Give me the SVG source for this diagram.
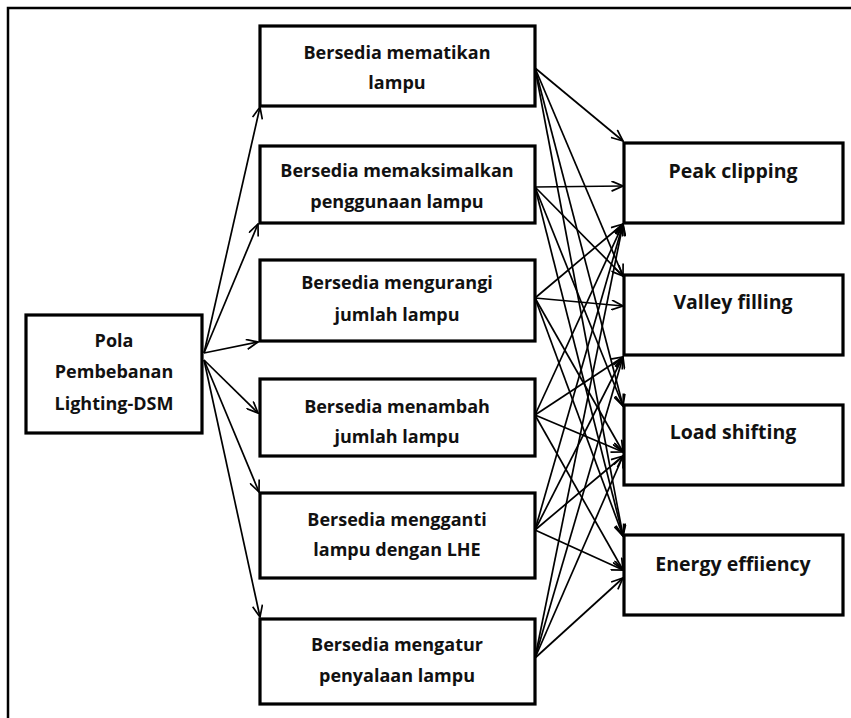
<svg xmlns="http://www.w3.org/2000/svg" width="851" height="718" viewBox="0 0 851 718">
<defs>
<marker id="ah" viewBox="0 0 13 11" refX="12" refY="5.5" markerWidth="13" markerHeight="11" markerUnits="userSpaceOnUse" orient="auto">
<path d="M0.5,0.5 L12,5.5 L0.5,10.5" fill="none" stroke="#000" stroke-width="1.7"/>
</marker>
</defs>
<style>
.box{fill:#fff;stroke:#000;stroke-width:3.2}
.t{font-family:"Open Sans","Liberation Sans",sans-serif;font-weight:700;fill:#111;text-anchor:middle}
.m{font-size:18px}
.r{font-size:19.5px}
.c line{stroke:#000;stroke-width:1.7;marker-end:url(#ah)}
</style>
<rect width="851" height="718" fill="#fff"/>
<path d="M8,718 V8 H851" fill="none" stroke="#000" stroke-width="2.5"/>

<g id="pola">
<rect class="box" x="26" y="315" width="176" height="118"/>
<text class="t m" x="114" y="347">Pola</text>
<text class="t m" x="114" y="378">Pembebanan</text>
<text class="t m" x="114" y="410">Lighting-DSM</text>
</g>

<g id="m1">
<rect class="box" x="260" y="26" width="275" height="80"/>
<text class="t m" x="397" y="59">Bersedia mematikan</text>
<text class="t m" x="397" y="89">lampu</text>
</g>
<g id="m2">
<rect class="box" x="260" y="146" width="275" height="77"/>
<text class="t m" x="397" y="177">Bersedia memaksimalkan</text>
<text class="t m" x="397" y="208">penggunaan lampu</text>
</g>
<g id="m3">
<rect class="box" x="260" y="260" width="275" height="81"/>
<text class="t m" x="397" y="289">Bersedia mengurangi</text>
<text class="t m" x="397" y="321">jumlah lampu</text>
</g>
<g id="m4">
<rect class="box" x="260" y="379" width="275" height="77"/>
<text class="t m" x="397" y="413">Bersedia menambah</text>
<text class="t m" x="397" y="443">jumlah lampu</text>
</g>
<g id="m5">
<rect class="box" x="260" y="493" width="275" height="85"/>
<text class="t m" x="397" y="526">Bersedia mengganti</text>
<text class="t m" x="397" y="556">lampu dengan LHE</text>
</g>
<g id="m6">
<rect class="box" x="260" y="619" width="275" height="85"/>
<text class="t m" x="397" y="651">Bersedia mengatur</text>
<text class="t m" x="397" y="682">penyalaan lampu</text>
</g>

<g id="peak">
<rect class="box" x="624" y="143" width="219" height="80"/>
<text class="t r" x="733" y="178">Peak clipping</text>
</g>
<g id="valley">
<rect class="box" x="624" y="275" width="219" height="80"/>
<text class="t r" x="733" y="309">Valley filling</text>
</g>
<g id="load">
<rect class="box" x="624" y="405" width="219" height="80"/>
<text class="t r" x="733" y="439">Load shifting</text>
</g>
<g id="energy">
<rect class="box" x="624" y="535" width="219" height="80"/>
<text class="t r" x="733" y="571">Energy effiiency</text>
</g>

<g id="connectors" class="c">
<line x1="204" y1="353" x2="260" y2="107"/>
<line x1="204" y1="353" x2="258" y2="224"/>
<line x1="204" y1="353" x2="258" y2="342"/>
<line x1="204" y1="360" x2="258" y2="413"/>
<line x1="204" y1="360" x2="259" y2="492"/>
<line x1="204" y1="360" x2="260" y2="617"/>

<line x1="535" y1="68" x2="623" y2="141"/>
<line x1="535" y1="68" x2="623" y2="276"/>
<line x1="535" y1="68" x2="623" y2="406"/>
<line x1="535" y1="68" x2="623" y2="536"/>

<line x1="535" y1="187" x2="623" y2="186"/>
<line x1="535" y1="187" x2="623" y2="276"/>
<line x1="535" y1="187" x2="623" y2="406"/>
<line x1="535" y1="187" x2="623" y2="536"/>

<line x1="535" y1="298" x2="623" y2="224"/>
<line x1="535" y1="298" x2="623" y2="306"/>
<line x1="535" y1="298" x2="623" y2="452"/>
<line x1="535" y1="298" x2="623" y2="536"/>

<line x1="535" y1="415" x2="623" y2="224"/>
<line x1="535" y1="415" x2="623" y2="357"/>
<line x1="535" y1="415" x2="623" y2="452"/>
<line x1="535" y1="415" x2="623" y2="570"/>

<line x1="535" y1="530" x2="623" y2="224"/>
<line x1="535" y1="530" x2="623" y2="357"/>
<line x1="535" y1="530" x2="623" y2="456"/>
<line x1="535" y1="530" x2="623" y2="570"/>

<line x1="535" y1="658" x2="623" y2="224"/>
<line x1="535" y1="658" x2="623" y2="357"/>
<line x1="535" y1="658" x2="623" y2="456"/>
<line x1="535" y1="658" x2="623" y2="578"/>
</g>
</svg>
